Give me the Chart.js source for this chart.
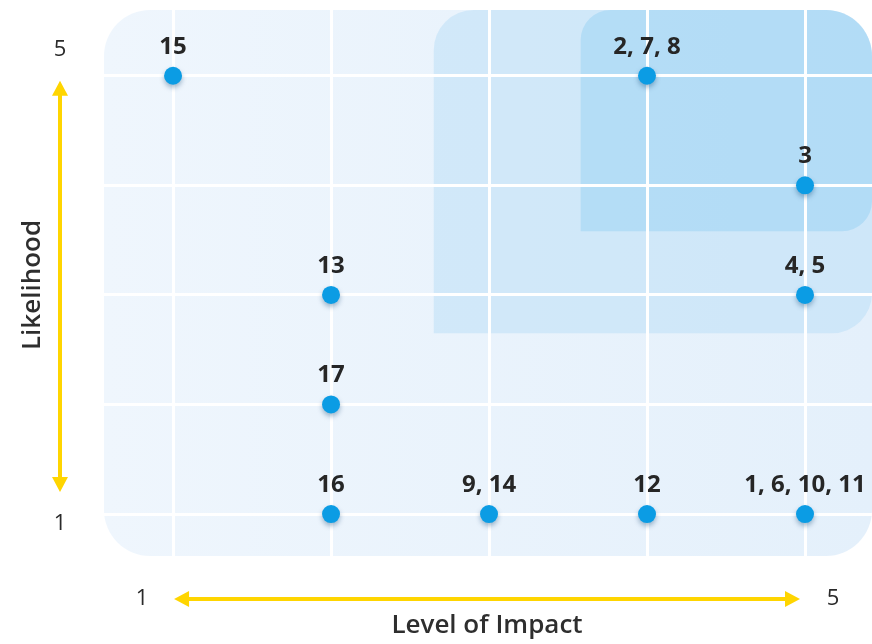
<!DOCTYPE html>
<html>
<head>
<meta charset="utf-8">
<script src="https://cdn.jsdelivr.net/npm/chart.js@4.4.1/dist/chart.umd.min.js"></script>
<style>
  body { margin: 0; background: #fff; }
  canvas { display: block; }
</style>
</head>
<body>
<canvas id="risk" width="872" height="644"></canvas>
<script>
// risk ids grouped by (impact, likelihood)
const riskIds = ["15", "2, 7, 8", "3", "4, 5", "13", "17", "16", "9, 14", "12", "1, 6, 10, 11"];
const impact = [1, 4, 5, 5, 2, 2, 2, 3, 4, 5];
const likelihood = [5, 5, 4, 3, 3, 2, 1, 1, 1, 1];
const tickValues = [1, 2, 3, 4, 5];
// shaded zones start (impact, likelihood) -> top right
const zoneMedium = [2.65, 2.65];
const zoneHigh = [3.58, 3.58];

const FONT = "'Open Sans', 'Noto Sans', sans-serif";

function roundRect(ctx, x, y, w, h, r) {
    ctx.beginPath();
    ctx.roundRect(x, y, w, h, r);
}

const backdrop = {
    id: "backdrop",
    beforeDraw(chart) {
        const { ctx, chartArea: a, scales } = chart;
        ctx.save();
        const g = ctx.createLinearGradient(a.left, 0, a.right, 0);
        g.addColorStop(0, "#eff6fd");
        g.addColorStop(1, "#e4f0fb");
        ctx.fillStyle = g;
        roundRect(ctx, a.left, a.top, a.right - a.left, a.bottom - a.top, 46);
        ctx.fill();

        let x0 = scales.x.getPixelForValue(zoneMedium[0]);
        let y0 = scales.y.getPixelForValue(zoneMedium[1]);
        ctx.fillStyle = "rgba(180, 220, 247, 0.45)";
        roundRect(ctx, x0, a.top, a.right - x0, y0 - a.top, [40, 46, 40, 0]);
        ctx.fill();

        x0 = scales.x.getPixelForValue(zoneHigh[0]);
        y0 = scales.y.getPixelForValue(zoneHigh[1]);
        ctx.fillStyle = "rgba(135, 203, 243, 0.38)";
        roundRect(ctx, x0, a.top, a.right - x0, y0 - a.top, [30, 46, 30, 0]);
        ctx.fill();
        ctx.restore();
    },
    beforeDatasetsDraw(chart) {
        const ctx = chart.ctx;
        ctx.save();
        ctx.shadowColor = "rgba(0, 60, 110, 0.35)";
        ctx.shadowBlur = 5;
        ctx.shadowOffsetY = 3;
    },
    afterDatasetsDraw(chart) {
        const { ctx, scales } = chart;
        ctx.restore();
        ctx.save();
        // point labels
        ctx.fillStyle = "#262626";
        ctx.font = "bold 24px " + FONT;
        ctx.textAlign = "center";
        ctx.textBaseline = "alphabetic";
        chart.getDatasetMeta(0).data.forEach((pt, i) => {
            ctx.fillText(riskIds[i], pt.x, pt.y - 22);
        });

        // axis end values
        ctx.fillStyle = "#2a2a2a";
        ctx.font = "22px " + FONT;
        ctx.textBaseline = "middle";
        const ax = 60;
        ctx.fillText(String(tickValues[tickValues.length - 1]), ax, scales.y.getPixelForValue(5) - 26);
        ctx.fillText(String(tickValues[0]), ax, scales.y.getPixelForValue(1) + 10);
        const ay = 599;
        ctx.fillText(String(tickValues[0]), scales.x.getPixelForValue(1) - 31, ay);
        ctx.fillText(String(tickValues[tickValues.length - 1]), scales.x.getPixelForValue(5) + 28, ay);

        // yellow arrows
        ctx.strokeStyle = "#ffd500";
        ctx.fillStyle = "#ffd500";
        ctx.lineWidth = 4;
        const yTop = scales.y.getPixelForValue(5) + 5;
        const yBot = scales.y.getPixelForValue(1) - 22;
        ctx.beginPath();
        ctx.moveTo(ax, yTop + 12);
        ctx.lineTo(ax, yBot - 12);
        ctx.stroke();
        arrowHead(ctx, ax, yTop, 0, -1);
        arrowHead(ctx, ax, yBot, 0, 1);
        const xL = scales.x.getPixelForValue(1) + 1;
        const xR = scales.x.getPixelForValue(5) - 5;
        ctx.beginPath();
        ctx.moveTo(xL + 12, ay);
        ctx.lineTo(xR - 12, ay);
        ctx.stroke();
        arrowHead(ctx, xL, ay, -1, 0);
        arrowHead(ctx, xR, ay, 1, 0);

        // axis titles
        ctx.fillStyle = "#2e2e2e";
        ctx.font = "600 26px " + FONT;
        ctx.fillText("Level of Impact", 487, 626);
        ctx.translate(33, 285);
        ctx.rotate(-Math.PI / 2);
        ctx.fillText("Likelihood", 0, 0);
        ctx.restore();
    }
};

function arrowHead(ctx, x, y, dx, dy) {
    const len = 15, half = 8;
    ctx.beginPath();
    ctx.moveTo(x, y);
    ctx.lineTo(x - dx * len - dy * half, y - dy * len - dx * half);
    ctx.lineTo(x - dx * len + dy * half, y - dy * len + dx * half);
    ctx.closePath();
    ctx.fill();
}

const points = impact.map((v, i) => ({ x: v, y: likelihood[i] }));

function gridScale(min, max) {
    return {
        type: "linear",
        min: min,
        max: max,
        afterBuildTicks: s => { s.ticks = tickValues.map(v => ({ value: v })); },
        ticks: { display: false },
        border: { display: false },
        grid: { color: "#ffffff", lineWidth: 3, drawTicks: false }
    };
}

new Chart(document.getElementById("risk"), {
    type: "scatter",
    data: {
        datasets: [{
            data: points,
            backgroundColor: "#0b9ce4",
            borderColor: "#0b9ce4",
            borderWidth: 0,
            pointRadius: 9,
            pointHoverRadius: 9
        }]
    },
    plugins: [backdrop],
    options: {
        responsive: false,
        animation: false,
        layout: { autoPadding: false, padding: { left: 104, top: 10, right: 0, bottom: 88 } },
        scales: {
            x: gridScale(0.563, 5.424),
            y: gridScale(0.617, 5.6)
        },
        plugins: { legend: { display: false }, tooltip: { enabled: false } }
    }
});
</script>
</body>
</html>
